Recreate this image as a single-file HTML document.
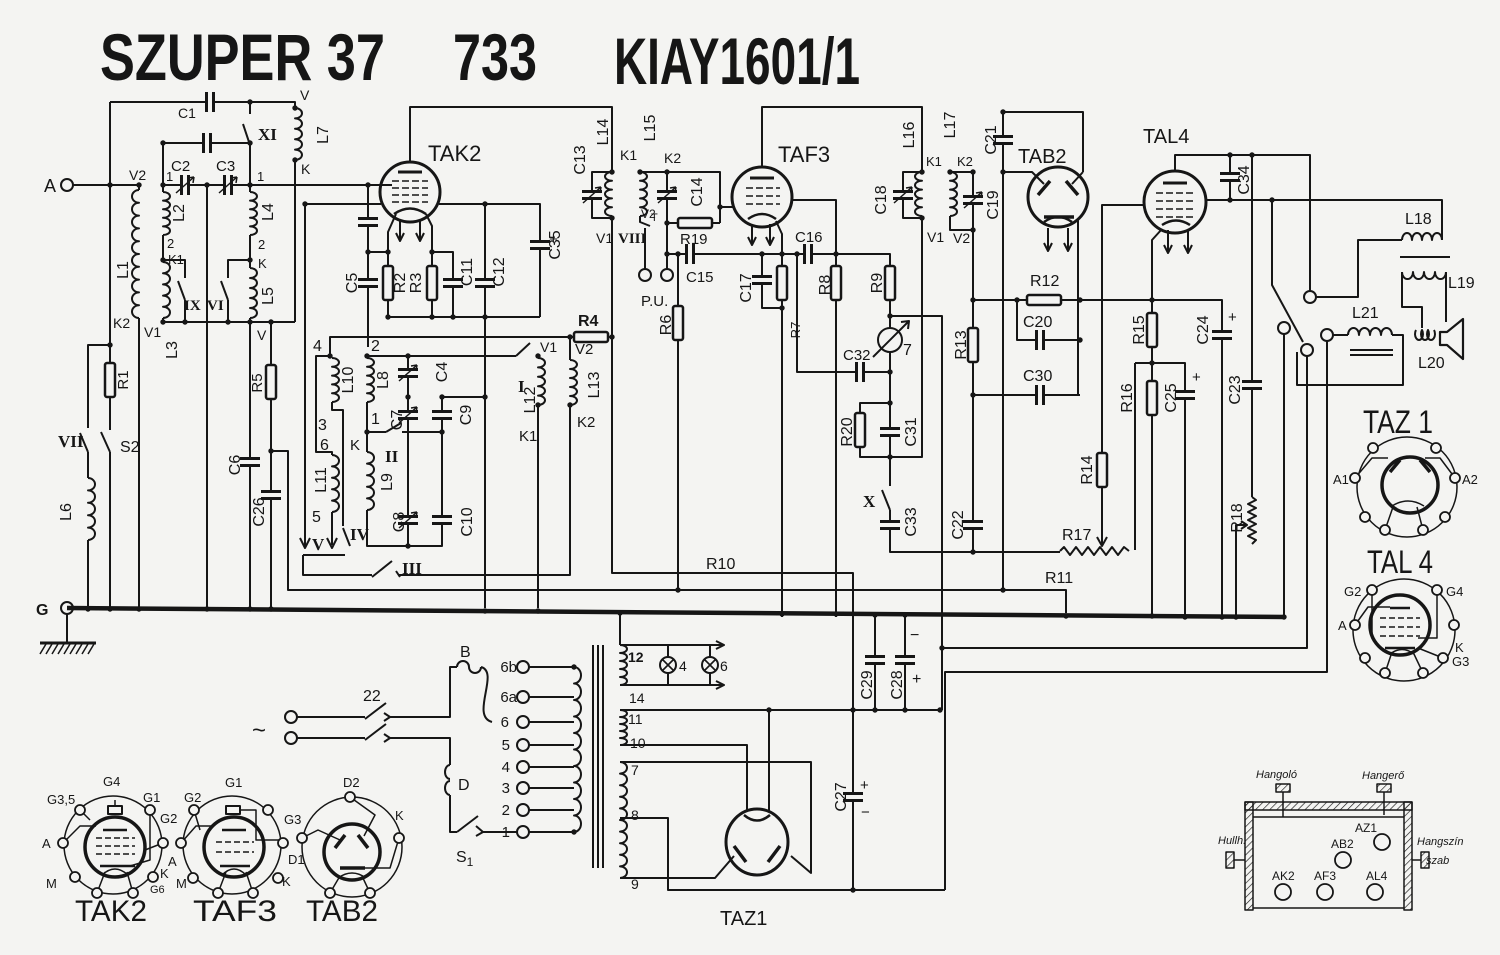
<!DOCTYPE html>
<html><head><meta charset="utf-8">
<style>
html,body{margin:0;padding:0;background:#f4f4f2}
svg{display:block}
text{font-family:"Liberation Sans",sans-serif;fill:#161616;stroke:none}
.s{font-family:"Liberation Serif",serif;font-weight:bold}
.i{font-style:italic}
</style></head><body>
<svg width="1500" height="955" viewBox="0 0 1500 955" xmlns="http://www.w3.org/2000/svg" font-size="16">
<defs>
<g id="cv"><rect x="-1.6" y="-2.6" width="3.2" height="5.2" fill="#f4f4f2" stroke="none"/><path d="M-10 -3.5H10M-10 3.5H10" stroke-width="3"/></g>
<g id="ch"><rect x="-2.6" y="-1.6" width="5.2" height="3.2" fill="#f4f4f2" stroke="none"/><path d="M-3.5 -10V10M3.5 -10V10" stroke-width="3"/></g>
<path id="vr" d="M-9 8L9 -8M9 -8l-6 1M9 -8l-1 6" stroke-width="1.5"/>
<rect id="rv" x="-5" y="-17" width="10" height="34" rx="2" fill="#f4f4f2" stroke-width="2.5"/>
<rect id="rh" x="-17" y="-5" width="34" height="10" rx="2" fill="#f4f4f2" stroke-width="2.5"/>
<circle id="d" r="2.7" fill="#161616" stroke="none"/>
<circle id="o" r="6" fill="#f4f4f2" stroke-width="2"/>
<circle id="p" r="5" fill="#f4f4f2" stroke-width="1.8"/>
<path id="k5" vector-effect="non-scaling-stroke" d="M0 0a7 5 0 1 1 0 10a7 5 0 1 1 0 10a7 5 0 1 1 0 10a7 5 0 1 1 0 10a7 5 0 1 1 0 10"/>
<path id="k10" vector-effect="non-scaling-stroke" d="M0 0a7 5 0 1 1 0 10a7 5 0 1 1 0 10a7 5 0 1 1 0 10a7 5 0 1 1 0 10a7 5 0 1 1 0 10a7 5 0 1 1 0 10a7 5 0 1 1 0 10a7 5 0 1 1 0 10a7 5 0 1 1 0 10a7 5 0 1 1 0 10"/>
<path id="h4" vector-effect="non-scaling-stroke" d="M0 0a5 7 0 1 1 10 0a5 7 0 1 1 10 0a5 7 0 1 1 10 0a5 7 0 1 1 10 0"/>
<pattern id="hatch" width="5" height="5" patternUnits="userSpaceOnUse" patternTransform="rotate(45)"><line x1="0" y1="0" x2="0" y2="5" stroke="#161616" stroke-width="1.3"/></pattern>
</defs>
<rect width="1500" height="955" fill="#f4f4f2"/>

<!-- TITLE -->
<g font-weight="bold">
<text x="100" y="80" font-size="66" textLength="285" lengthAdjust="spacingAndGlyphs">SZUPER 37</text>
<text x="453" y="80" font-size="66" textLength="84" lengthAdjust="spacingAndGlyphs">733</text>
<text x="614" y="84" font-size="66" textLength="246" lengthAdjust="spacingAndGlyphs">KIAY1601/1</text>
</g>

<g stroke="#161616" stroke-width="2" fill="none" stroke-linejoin="round">
<!-- ANTENNA SECTION -->
<path d="M73 185H139V190M139 318V608M110 102V430M110 452V608M110 345H88V428M88 452V478M88 540V608
M110 102H295V108M295 160V322M163 143H250M250 102V114M250 145V192M163 143V192M163 235V262M163 318V322H295
M163 260H185V278M185 300V322M163 185H392M207 185V608M250 235V268M250 260H228V278M228 300V322M250 318V608
M271 322V608M271 451H288V590H1066V613M67 614V643"/>
<path d="M110 452L101 432M88 452L80 433M250 145L243 124M185 300L178 281M228 300L221 281"/>
<path d="M40 643H96" stroke-width="3"/>
<path d="M46 644l-6 10M52 644l-6 10M58 644l-6 10M64 644l-6 10M70 644l-6 10M76 644l-6 10M82 644l-6 10M88 644l-6 10M94 644l-6 10" stroke-width="1.5"/>
<use href="#k10" transform="translate(139,190) scale(-1,1.28)"/>
<use href="#k5" transform="translate(163,192) scale(1,0.86)"/>
<use href="#k5" transform="translate(163,262) scale(1,1.12)"/>
<use href="#k5" transform="translate(250,192) scale(1,0.86)"/>
<use href="#k5" transform="translate(250,268) scale(1,1)"/>
<use href="#k5" transform="translate(295,108) scale(1,1.04)"/>
<use href="#k5" transform="translate(88,478) scale(1,1.24)"/>
<use href="#ch" x="210" y="102"/><use href="#ch" x="207" y="143"/>
<use href="#ch" x="185" y="185"/><use href="#vr" x="185" y="185"/>
<use href="#ch" x="228" y="185"/><use href="#vr" x="228" y="185"/>
<use href="#rv" x="110" y="380"/><use href="#rv" x="271" y="382"/>
<use href="#cv" x="250" y="462"/><use href="#cv" x="271" y="495"/>
<use href="#o" x="67" y="185"/><use href="#o" x="67" y="608"/>

<!-- TAK2 -->
<circle cx="410" cy="192" r="30" stroke-width="3"/>
<path d="M398 172H422" stroke-width="3"/>
<path d="M392 181H428M392 188H428M392 195H428M392 202H428" stroke-width="1.6" stroke-dasharray="7 3"/>
<path d="M394 214Q410 203 426 214" stroke-width="2.5"/>
<path d="M400 220V240M396 233L400 241L404 233M420 220V240M416 233L420 241L424 233"/>
<path d="M410 162V107H612V172M368 185V347M368 252H388V317M432 252V317M432 252H453V317M388 317H540M396 214L388 232V252M426 214L432 226V252
M305 204H381M439 204H540V317M485 204V608M305 204V546M300 538L305 548L310 538"/>
<use href="#cv" x="368" y="222"/><use href="#cv" x="368" y="283"/><use href="#cv" x="453" y="283"/><use href="#cv" x="485" y="283"/><use href="#cv" x="540" y="245"/>
<use href="#rv" x="388" y="283"/><use href="#rv" x="432" y="283"/>

<!-- OSCILLATOR -->
<path d="M330 356V337H612M330 356H316V452H332V455M332 402V410H343V526M343 528L350 546M332 512V545M327 538L332 548L337 538M303 555H345M303 555V575H372M398 575H570V405
M367 356H516M516 356L530 343M538 356V358M538 405V608M570 337V360M367 402V452M367 510V546H442V397H485M408 356V546M367 432H386M386 432L401 423M402 432H442M372 577L392 561M396 571L400 577"/>
<use href="#k5" transform="translate(332,358) scale(1,0.88)"/>
<use href="#k5" transform="translate(332,455) scale(1,1.14)"/>
<use href="#k5" transform="translate(367,358) scale(1,0.88)"/>
<use href="#k5" transform="translate(367,452) scale(1,1.16)"/>
<use href="#k5" transform="translate(538,358) scale(1,0.94)"/>
<use href="#k5" transform="translate(570,360) scale(1,0.9)"/>
<use href="#cv" x="408" y="373"/><use href="#vr" x="408" y="373"/>
<use href="#cv" x="408" y="415"/><use href="#vr" x="408" y="415"/>
<use href="#cv" x="408" y="520"/><use href="#vr" x="408" y="520"/>
<use href="#cv" x="442" y="415"/><use href="#cv" x="442" y="520"/>
<use href="#rh" x="591" y="337"/>

<!-- IF1 + TAF3 -->
<path d="M612 216V573H853V890M612 172H592V218H612M640 172H720V223M720 207H734M667 172V269M640 216V222L650 226M645 228V269M667 223H720
M667 254H890V265M678 254V590"/>
<use href="#k5" transform="translate(612,172) scale(-1,0.88)"/>
<use href="#k5" transform="translate(640,172) scale(1,0.88)"/>
<use href="#cv" x="592" y="195"/><use href="#vr" x="592" y="195"/>
<use href="#cv" x="667" y="195"/><use href="#vr" x="667" y="195"/>
<use href="#rh" x="695" y="223"/>
<use href="#ch" x="690" y="254"/><use href="#ch" x="808" y="254"/>
<use href="#rv" x="678" y="323"/>
<use href="#o" x="645" y="275"/><use href="#o" x="667" y="275"/>
<circle cx="762" cy="197" r="30" stroke-width="3"/>
<path d="M750 178H774" stroke-width="3"/>
<path d="M746 188H780M746 196H780M746 204H780" stroke-width="1.6" stroke-dasharray="7 3"/>
<path d="M748 219Q762 209 776 219" stroke-width="2.5"/>
<path d="M752 224V244M748 237L752 245L756 237M770 224V244M766 237L770 245L774 237"/>
<path d="M762 167V107H922V172M792 200H836V617M776 221L782 234V308H762V254M782 308V617M797 254V372H890M890 254V328M890 352V486M890 403H860V457H922V216M890 316H942V710M890 510V552H1060M890 510L882 490"/>
<use href="#cv" x="762" y="280"/><use href="#rv" x="782" y="283"/><use href="#rv" x="836" y="283"/><use href="#rv" x="890" y="283"/>
<use href="#ch" x="860" y="372"/><use href="#rv" x="860" y="430"/><use href="#cv" x="890" y="432"/><use href="#cv" x="890" y="525"/>
<circle cx="890" cy="340" r="12" fill="#f4f4f2"/>
<path d="M873 357L909 321M901 322L909 321L908 329"/>

<!-- IF2 + TAB2 -->
<path d="M922 172H903V218H922M950 172H973V552M950 216V230H973M1003 112V592M1003 112H1083V172M1003 172H1032L1044 184M1083 172L1072 184M1078 219V395M973 300H1152M1017 300V340H1080M973 395H1080"/>
<use href="#k5" transform="translate(922,172) scale(-1,0.88)"/>
<use href="#k5" transform="translate(950,172) scale(1,0.88)"/>
<use href="#cv" x="903" y="195"/><use href="#vr" x="903" y="195"/>
<use href="#cv" x="973" y="200"/><use href="#vr" x="973" y="200"/>
<use href="#cv" x="1003" y="140"/><use href="#rv" x="973" y="345"/><use href="#cv" x="973" y="525"/>
<use href="#rh" x="1044" y="300"/><use href="#ch" x="1040" y="340"/><use href="#ch" x="1040" y="395"/>
<circle cx="1058" cy="197" r="30" stroke-width="3"/>
<path d="M1038 195L1050 181M1066 181L1078 195M1044 217H1074" stroke-width="3.5"/>
<path d="M1044 222Q1058 212 1072 222" stroke-width="2.5"/>
<path d="M1048 228V250M1044 243L1048 251L1052 243M1068 228V250M1064 243L1068 251L1072 243"/>

<!-- TAL4 -->
<circle cx="1175" cy="202" r="31" stroke-width="3"/>
<path d="M1163 183H1187" stroke-width="3"/>
<path d="M1156 193H1196M1156 201H1196M1156 209H1196M1156 217H1196" stroke-width="1.6" stroke-dasharray="7 3"/>
<path d="M1162 225Q1176 216 1190 225" stroke-width="2.5"/>
<path d="M1168 230V252M1164 245L1168 253L1172 245M1188 230V252M1184 245L1188 253L1192 245"/>
<path d="M1175 171V155H1310V291M1230 155V200M1206 200H1442V240M1252 155V497M1236 617V525H1246M1241 521L1247 525L1241 529M1145 205H1102V544M1097 537L1102 546L1107 537
M1162 229L1152 240V617M1135 363H1185V617M1135 363V550M1152 300H1222V617M1272 200V285L1303 342
M1316 297H1358V240H1402M1402 272V307H1422V328M1446 272V322M1333 335H1348M1392 335H1403V385H1297V352M1284 334V617M1307 356V648H940M1327 341V672H945V890"/>
<path d="M1252 497l4 3l-8 4l8 4l-8 4l8 4l-8 4l8 4l-8 4l8 4l-8 4l8 4l-4 4"/>
<path d="M1060 551l4 -4l6 8l6 -8l6 8l6 -8l6 8l6 -8l6 8l6 -8l6 8l6 -8l5 4"/>
<use href="#cv" x="1230" y="177"/><use href="#cv" x="1252" y="385"/><use href="#cv" x="1222" y="335"/><use href="#cv" x="1185" y="395"/>
<use href="#rv" x="1102" y="470"/><use href="#rv" x="1152" y="330"/><use href="#rv" x="1152" y="398"/>
<use href="#h4" transform="translate(1402,240)"/>
<use href="#h4" transform="translate(1402,272) scale(1.1,-1)"/>
<use href="#h4" transform="translate(1348,335) scale(1.1,1)"/>
<path d="M1400 257H1450M1350 350H1393M1350 355H1393"/>
<path d="M1416 330a4 6 0 1 0 6 0a4 6 0 1 0 6 0a4 6 0 1 0 6 0" stroke-width="2"/>
<path d="M1440 332H1447L1463 319V359L1447 345H1440Z" stroke-width="2.2"/>
<use href="#o" x="1310" y="297"/><use href="#o" x="1284" y="328"/><use href="#o" x="1307" y="350"/><use href="#o" x="1327" y="335"/>

<!-- GROUND BUS -->
<path d="M67 608L1285 617" stroke-width="4.5"/>
<path d="M620 613V645M853 710V890M875 616V710M905 616V710M620 710H940M942 648V710"/>
<use href="#cv" x="875" y="660"/><use href="#cv" x="905" y="660"/><use href="#cv" x="853" y="797"/>

<!-- TRANSFORMER -->
<use href="#k10" transform="translate(574,667) scale(1,1.65)"/>
<path d="M593 645V868M598 645V868M603 645V868"/>
<use href="#k5" transform="translate(620,645) scale(1,0.8)"/>
<use href="#k5" transform="translate(620,710) scale(1,0.7)"/>
<use href="#k10" transform="translate(620,762) scale(1,1.16)"/>
<path d="M620 645H722M620 685H722M716 641L724 645L716 649M716 681L724 685L716 689M668 645V657M668 673V685M710 645V657M710 673V685"/>
<circle cx="668" cy="665" r="8" fill="#f4f4f2"/><circle cx="710" cy="665" r="8" fill="#f4f4f2"/>
<path d="M662 659L674 671M674 659L662 671M704 659L716 671M716 659L704 671" stroke-width="1.6"/>
<path d="M620 745H747V812M769 710V812M620 762H811V873L791 856M620 818H668V890H945M620 878H715L734 856"/>
<ellipse cx="757" cy="842" rx="31" ry="33" stroke-width="3"/>
<path d="M744 815Q757 826 770 815" stroke-width="2.5"/>
<path d="M734 846L746 862M780 846L768 862" stroke-width="3.5"/>
<path d="M529 667H574M529 697H574M529 722H574M529 745H574M529 767H574M529 788H574M529 810H574M529 832H574"/>
<use href="#o" x="523" y="667"/><use href="#o" x="523" y="697"/><use href="#o" x="523" y="722"/><use href="#o" x="523" y="745"/><use href="#o" x="523" y="767"/><use href="#o" x="523" y="788"/><use href="#o" x="523" y="810"/><use href="#o" x="523" y="832"/>
<!-- mains -->
<path d="M297 717H365M365 719L386 703M297 738H365M365 740L386 724M384 713L390 717L384 721M384 734L390 738L384 742
M390 717H450V667H457M457 667a6 6 0 0 1 12 0a6 6 0 0 0 12 0M481 667C500 672 470 716 492 722
M390 738H450V765M450 765a5 7 0 0 0 0 14M450 781a5 7 0 0 0 0 14M450 795V832H457M457 832L478 816M476 826L483 832L476 836M483 832H517"/>
<use href="#o" x="291" y="717"/><use href="#o" x="291" y="738"/>

<!-- SOCKETS BOTTOM LEFT -->
<circle cx="113" cy="845" r="49" stroke-width="1.5"/>
<circle cx="115" cy="847" r="30" stroke-width="3.5"/>
<rect x="108" y="806" width="14" height="8" stroke-width="2"/>
<path d="M103 830H127M100 866H135" stroke-width="2.5"/>
<path d="M96 838H135M96 846H135M96 854H135" stroke-width="1.5" stroke-dasharray="6 3"/>
<path d="M63 843L80 826H96M80 810L90 820M150 810V860L130 866M163 843L145 850M97 893L105 872M133 893L127 872M102 875Q115 863 128 875M115 806V800" stroke-width="1.5"/>
<circle cx="232" cy="845" r="49" stroke-width="1.5"/>
<circle cx="234" cy="847" r="30" stroke-width="3.5"/>
<rect x="226" y="806" width="14" height="8" stroke-width="2"/>
<path d="M222 830H246M220 866H250" stroke-width="2.5"/>
<path d="M216 842H254M216 852H254" stroke-width="1.5" stroke-dasharray="6 3"/>
<path d="M181 843L196 826H214M194 810L200 830M240 810H256V840H283M218 893L226 872M253 893L246 872M222 875Q234 863 246 875" stroke-width="1.5"/>
<circle cx="352" cy="847" r="50" stroke-width="1.5"/>
<circle cx="352" cy="852" r="28" stroke-width="3.5"/>
<path d="M335 848L345 835M358 835L368 848M340 868H365" stroke-width="3.5"/>
<path d="M302 838L318 830L340 840M350 797L375 815L364 836M399 838L390 868H365M330 893L340 876M370 893L362 876M338 878Q352 868 366 878" stroke-width="1.5"/>
<g>
<use href="#p" x="80" y="810"/><use href="#p" x="150" y="810"/><use href="#p" x="63" y="843"/><use href="#p" x="163" y="843"/><use href="#p" x="75" y="877"/><use href="#p" x="97" y="893"/><use href="#p" x="133" y="893"/><use href="#p" x="153" y="877"/>
<use href="#p" x="194" y="810"/><use href="#p" x="268" y="810"/><use href="#p" x="181" y="843"/><use href="#p" x="283" y="843"/><use href="#p" x="193" y="878"/><use href="#p" x="218" y="893"/><use href="#p" x="253" y="893"/><use href="#p" x="278" y="878"/>
<use href="#p" x="350" y="797"/><use href="#p" x="302" y="838"/><use href="#p" x="399" y="838"/><use href="#p" x="330" y="893"/><use href="#p" x="370" y="893"/>
</g>

<!-- SOCKETS RIGHT -->
<circle cx="1407" cy="487" r="50" stroke-width="1.5"/>
<circle cx="1410" cy="485" r="28" stroke-width="3.5"/>
<path d="M1390 472L1400 460M1420 460L1430 472" stroke-width="3.5"/>
<path d="M1355 478L1372 458H1388M1455 478L1440 458H1425M1385 530L1393 507M1423 530L1417 507M1392 506Q1408 496 1424 506" stroke-width="1.5"/>
<use href="#p" x="1373" y="448"/><use href="#p" x="1436" y="448"/><use href="#p" x="1355" y="478"/><use href="#p" x="1455" y="478"/><use href="#p" x="1365" y="517"/><use href="#p" x="1445" y="517"/><use href="#p" x="1385" y="530"/><use href="#p" x="1423" y="530"/>
<circle cx="1404" cy="630" r="51" stroke-width="1.5"/>
<circle cx="1400" cy="625" r="30" stroke-width="3.5"/>
<path d="M1390 608H1410M1385 648H1415" stroke-width="2.5"/>
<path d="M1380 618H1420M1380 627H1420M1380 636H1420" stroke-width="1.5" stroke-dasharray="6 3"/>
<path d="M1355 625L1368 607H1390M1372 590V635M1437 590V638H1418M1443 658L1418 648M1385 673L1392 652M1423 673L1413 652M1390 654Q1402 645 1414 654" stroke-width="1.5"/>
<use href="#p" x="1372" y="590"/><use href="#p" x="1437" y="590"/><use href="#p" x="1355" y="625"/><use href="#p" x="1454" y="625"/><use href="#p" x="1443" y="658"/><use href="#p" x="1365" y="658"/><use href="#p" x="1385" y="673"/><use href="#p" x="1423" y="673"/>

<!-- CHASSIS -->
<rect x="1245" y="802" width="167" height="8" fill="url(#hatch)" stroke-width="1.5"/>
<rect x="1245" y="802" width="8" height="108" fill="url(#hatch)" stroke-width="1.5"/>
<rect x="1404" y="802" width="8" height="108" fill="url(#hatch)" stroke-width="1.5"/>
<path d="M1253 817H1404M1253 908H1404M1283 792V817M1384 792V815M1234 860H1245M1412 860H1421" stroke-width="1.5"/>
<rect x="1276" y="784" width="14" height="8" fill="url(#hatch)" stroke-width="1.5"/>
<rect x="1377" y="784" width="14" height="8" fill="url(#hatch)" stroke-width="1.5"/>
<rect x="1226" y="852" width="8" height="16" fill="url(#hatch)" stroke-width="1.5"/>
<rect x="1421" y="852" width="8" height="16" fill="url(#hatch)" stroke-width="1.5"/>
<circle cx="1382" cy="842" r="8" stroke-width="1.8"/><circle cx="1343" cy="860" r="8" stroke-width="1.8"/>
<circle cx="1283" cy="892" r="8" stroke-width="1.8"/><circle cx="1325" cy="892" r="8" stroke-width="1.8"/><circle cx="1375" cy="892" r="8" stroke-width="1.8"/>
</g>

<!-- JUNCTION DOTS -->
<g>
<use href="#d" x="110" y="185"/><use href="#d" x="139" y="185"/><use href="#d" x="163" y="185"/><use href="#d" x="207" y="185"/><use href="#d" x="250" y="185"/><use href="#d" x="368" y="185"/>
<use href="#d" x="110" y="345"/><use href="#d" x="163" y="143"/><use href="#d" x="250" y="143"/><use href="#d" x="250" y="102"/><use href="#d" x="295" y="108"/><use href="#d" x="295" y="160"/>
<use href="#d" x="163" y="322"/><use href="#d" x="185" y="322"/><use href="#d" x="228" y="322"/><use href="#d" x="250" y="322"/><use href="#d" x="271" y="322"/><use href="#d" x="271" y="451"/><use href="#d" x="250" y="260"/><use href="#d" x="163" y="260"/>
<use href="#d" x="88" y="609"/><use href="#d" x="110" y="609"/><use href="#d" x="139" y="609"/><use href="#d" x="207" y="609"/><use href="#d" x="250" y="609"/><use href="#d" x="271" y="609"/><use href="#d" x="485" y="611"/><use href="#d" x="538" y="611"/><use href="#d" x="620" y="613"/><use href="#d" x="782" y="614"/><use href="#d" x="836" y="614"/><use href="#d" x="875" y="615"/><use href="#d" x="905" y="615"/><use href="#d" x="1066" y="616"/><use href="#d" x="1152" y="616"/><use href="#d" x="1185" y="617"/><use href="#d" x="1222" y="617"/><use href="#d" x="1236" y="617"/><use href="#d" x="1284" y="617"/>
<use href="#d" x="368" y="252"/><use href="#d" x="388" y="252"/><use href="#d" x="432" y="252"/><use href="#d" x="388" y="317"/><use href="#d" x="432" y="317"/><use href="#d" x="453" y="317"/><use href="#d" x="485" y="317"/><use href="#d" x="485" y="204"/><use href="#d" x="305" y="204"/>
<use href="#d" x="330" y="356"/><use href="#d" x="367" y="356"/><use href="#d" x="408" y="356"/><use href="#d" x="408" y="397"/><use href="#d" x="442" y="397"/><use href="#d" x="485" y="397"/><use href="#d" x="367" y="432"/><use href="#d" x="442" y="432"/><use href="#d" x="408" y="546"/><use href="#d" x="570" y="337"/><use href="#d" x="612" y="337"/><use href="#d" x="538" y="356"/><use href="#d" x="538" y="405"/><use href="#d" x="570" y="405"/>
<use href="#d" x="612" y="172"/><use href="#d" x="612" y="218"/><use href="#d" x="640" y="172"/><use href="#d" x="667" y="172"/><use href="#d" x="720" y="207"/><use href="#d" x="667" y="223"/><use href="#d" x="667" y="254"/><use href="#d" x="678" y="254"/><use href="#d" x="762" y="254"/><use href="#d" x="782" y="254"/><use href="#d" x="797" y="254"/><use href="#d" x="836" y="254"/><use href="#d" x="782" y="308"/><use href="#d" x="890" y="316"/><use href="#d" x="890" y="372"/><use href="#d" x="890" y="403"/><use href="#d" x="890" y="457"/><use href="#d" x="678" y="590"/>
<use href="#d" x="922" y="172"/><use href="#d" x="922" y="218"/><use href="#d" x="950" y="172"/><use href="#d" x="973" y="172"/><use href="#d" x="973" y="230"/>
<use href="#d" x="973" y="300"/><use href="#d" x="1017" y="300"/><use href="#d" x="1080" y="300"/><use href="#d" x="973" y="395"/><use href="#d" x="1080" y="340"/><use href="#d" x="1003" y="112"/><use href="#d" x="1003" y="172"/><use href="#d" x="1003" y="590"/><use href="#d" x="973" y="552"/>
<use href="#d" x="1152" y="300"/><use href="#d" x="1152" y="363"/><use href="#d" x="1230" y="155"/><use href="#d" x="1252" y="155"/><use href="#d" x="1230" y="200"/><use href="#d" x="1272" y="200"/>
<use href="#d" x="853" y="710"/><use href="#d" x="769" y="710"/><use href="#d" x="875" y="710"/><use href="#d" x="905" y="710"/><use href="#d" x="940" y="710"/><use href="#d" x="942" y="648"/><use href="#d" x="853" y="890"/>
<use href="#d" x="574" y="667"/><use href="#d" x="574" y="832"/>
</g>

<!-- LABELS -->
<text x="44" y="192" font-size="18">A</text>
<text x="36" y="615" font-weight="bold">G</text>
<text x="129" y="180" font-size="14">V2</text>
<text x="178" y="118" font-size="14">C1</text>
<text x="171" y="171" font-size="15">C2</text>
<text x="216" y="171" font-size="15">C3</text>
<text x="166" y="181" font-size="13">1</text>
<text x="257" y="181" font-size="13">1</text>
<text x="258" y="140" class="s" font-size="17">XI</text>
<text x="300" y="100" font-size="14">V</text>
<text x="301" y="174" font-size="14">K</text>
<text transform="translate(328 135) rotate(-90)" text-anchor="middle">L7</text>
<text transform="translate(128 270) rotate(-90)" text-anchor="middle">L1</text>
<text transform="translate(184 213) rotate(-90)" text-anchor="middle">L2</text>
<text x="167" y="248" font-size="13">2</text>
<text x="168" y="264" font-size="13">K1</text>
<text transform="translate(273 212) rotate(-90)" text-anchor="middle">L4</text>
<text x="258" y="249" font-size="13">2</text>
<text x="258" y="268" font-size="13">K</text>
<text transform="translate(273 296) rotate(-90)" text-anchor="middle">L5</text>
<text x="257" y="340" font-size="14">V</text>
<text x="113" y="328" font-size="14">K2</text>
<text x="144" y="337" font-size="14">V1</text>
<text transform="translate(177 350) rotate(-90)" text-anchor="middle">L3</text>
<text x="184" y="310" class="s" font-size="15">IX</text>
<text x="207" y="310" class="s" font-size="15">VI</text>
<text transform="translate(128 380) rotate(-90)" text-anchor="middle" font-size="15">R1</text>
<text x="120" y="452">S2</text>
<text x="58" y="447" class="s" font-size="17">VII</text>
<text transform="translate(71 512) rotate(-90)" text-anchor="middle">L6</text>
<text transform="translate(262 383) rotate(-90)" text-anchor="middle" font-size="15">R5</text>
<text transform="translate(240 465) rotate(-90)" text-anchor="middle">C6</text>
<text transform="translate(264 512) rotate(-90)" text-anchor="middle">C26</text>

<text x="428" y="161" font-size="22">TAK2</text>
<text transform="translate(357 283) rotate(-90)" text-anchor="middle">C5</text>
<text transform="translate(405 283) rotate(-90)" text-anchor="middle">R2</text>
<text transform="translate(421 283) rotate(-90)" text-anchor="middle">R3</text>
<text transform="translate(472 272) rotate(-90)" text-anchor="middle">C11</text>
<text transform="translate(504 272) rotate(-90)" text-anchor="middle">C12</text>
<text transform="translate(560 245) rotate(-90)" text-anchor="middle">C35</text>
<text x="549" y="244" font-size="15">+</text>

<text x="313" y="351">4</text>
<text x="371" y="351">2</text>
<text transform="translate(353 380) rotate(-90)" text-anchor="middle">L10</text>
<text transform="translate(388 380) rotate(-90)" text-anchor="middle">L8</text>
<text transform="translate(447 372) rotate(-90)" text-anchor="middle">C4</text>
<text x="371" y="424">1</text>
<text transform="translate(402 420) rotate(-90)" text-anchor="middle">C7</text>
<text transform="translate(471 415) rotate(-90)" text-anchor="middle">C9</text>
<text x="318" y="430">3</text>
<text x="320" y="450">6</text>
<text transform="translate(326 480) rotate(-90)" text-anchor="middle">L11</text>
<text x="312" y="522">5</text>
<text x="350" y="450" font-size="15">K</text>
<text transform="translate(392 482) rotate(-90)" text-anchor="middle">L9</text>
<text x="385" y="462" class="s" font-size="17">II</text>
<text transform="translate(404 522) rotate(-90)" text-anchor="middle">C8</text>
<text transform="translate(472 522) rotate(-90)" text-anchor="middle">C10</text>
<text x="350" y="540" class="s" font-size="17">IV</text>
<text x="312" y="550" class="s" font-size="17">V</text>
<text x="402" y="574" class="s" font-size="17">III</text>
<text x="518" y="392" class="s" font-size="17">I</text>
<text x="540" y="352" font-size="14">V1</text>
<text transform="translate(535 400) rotate(-90)" text-anchor="middle">L12</text>
<text x="519" y="441" font-size="15">K1</text>
<text x="578" y="326" font-weight="bold">R4</text>
<text x="575" y="354" font-size="15">V2</text>
<text transform="translate(599 385) rotate(-90)" text-anchor="middle">L13</text>
<text x="577" y="427" font-size="15">K2</text>

<text transform="translate(585 160) rotate(-90)" text-anchor="middle">C13</text>
<text transform="translate(608 132) rotate(-90)" text-anchor="middle">L14</text>
<text x="620" y="160" font-size="14">K1</text>
<text x="596" y="243" font-size="14">V1</text>
<text transform="translate(655 128) rotate(-90)" text-anchor="middle">L15</text>
<text x="664" y="163" font-size="14">K2</text>
<text x="641" y="218" font-size="12">V2</text>
<text transform="translate(702 192) rotate(-90)" text-anchor="middle">C14</text>
<text x="651" y="221" font-size="11">T</text>
<text x="618" y="243" class="s" font-size="15">VIII</text>
<text x="680" y="244" font-size="15">R19</text>
<text x="686" y="282" font-size="15">C15</text>
<text x="641" y="306" font-size="15">P.U.</text>
<text transform="translate(671 325) rotate(-90)" text-anchor="middle">R6</text>
<text x="778" y="162" font-size="22">TAF3</text>
<text x="795" y="242" font-size="15">C16</text>
<text transform="translate(751 288) rotate(-90)" text-anchor="middle">C17</text>
<text transform="translate(800 330) rotate(-90)" text-anchor="middle" font-size="13">R7</text>
<text transform="translate(830 285) rotate(-90)" text-anchor="middle">R8</text>
<text transform="translate(882 283) rotate(-90)" text-anchor="middle">R9</text>
<text x="843" y="360" font-size="15">C32</text>
<text x="903" y="355">7</text>
<text transform="translate(852 432) rotate(-90)" text-anchor="middle">R20</text>
<text transform="translate(916 432) rotate(-90)" text-anchor="middle">C31</text>
<text x="863" y="507" class="s" font-size="17">X</text>
<text transform="translate(916 522) rotate(-90)" text-anchor="middle">C33</text>

<text transform="translate(886 200) rotate(-90)" text-anchor="middle">C18</text>
<text transform="translate(914 135) rotate(-90)" text-anchor="middle">L16</text>
<text x="926" y="166" font-size="13">K1</text>
<text x="927" y="242" font-size="14">V1</text>
<text transform="translate(955 125) rotate(-90)" text-anchor="middle">L17</text>
<text x="957" y="166" font-size="13">K2</text>
<text transform="translate(998 205) rotate(-90)" text-anchor="middle">C19</text>
<text x="953" y="243" font-size="14">V2</text>
<text transform="translate(996 140) rotate(-90)" text-anchor="middle">C21</text>
<text x="1018" y="163" font-size="20">TAB2</text>
<text x="1030" y="286">R12</text>
<text x="1023" y="327">C20</text>
<text x="1023" y="381">C30</text>
<text transform="translate(966 345) rotate(-90)" text-anchor="middle">R13</text>
<text transform="translate(963 525) rotate(-90)" text-anchor="middle">C22</text>
<text x="1143" y="143" font-size="20">TAL4</text>
<text transform="translate(1249 180) rotate(-90)" text-anchor="middle">C34</text>
<text transform="translate(1144 330) rotate(-90)" text-anchor="middle">R15</text>
<text transform="translate(1208 330) rotate(-90)" text-anchor="middle">C24</text>
<text x="1228" y="322" font-size="15">+</text>
<text transform="translate(1132 398) rotate(-90)" text-anchor="middle">R16</text>
<text transform="translate(1176 398) rotate(-90)" text-anchor="middle">C25</text>
<text x="1192" y="382" font-size="15">+</text>
<text transform="translate(1240 390) rotate(-90)" text-anchor="middle">C23</text>
<text transform="translate(1092 470) rotate(-90)" text-anchor="middle">R14</text>
<text x="1062" y="540">R17</text>
<text transform="translate(1242 518) rotate(-90)" text-anchor="middle">R18</text>
<text x="1405" y="224">L18</text>
<text x="1448" y="288">L19</text>
<text x="1418" y="368">L20</text>
<text x="1352" y="318">L21</text>

<text x="706" y="569">R10</text>
<text x="1045" y="583">R11</text>
<text transform="translate(872 685) rotate(-90)" text-anchor="middle">C29</text>
<text transform="translate(902 685) rotate(-90)" text-anchor="middle">C28</text>
<text x="910" y="640" font-size="16">−</text>
<text x="912" y="684" font-size="16">+</text>
<text transform="translate(846 797) rotate(-90)" text-anchor="middle">C27</text>
<text x="860" y="790" font-size="15">+</text>
<text x="861" y="817" font-size="15">−</text>
<text x="720" y="925" font-size="20">TAZ1</text>
<text x="628" y="662" font-size="14" font-weight="bold">12</text>
<text x="629" y="703" font-size="14">14</text>
<text x="628" y="724" font-size="14">11</text>
<text x="630" y="748" font-size="14">10</text>
<text x="631" y="775" font-size="14">7</text>
<text x="631" y="820" font-size="14">8</text>
<text x="631" y="889" font-size="14">9</text>
<text x="679" y="671" font-size="14">4</text>
<text x="720" y="671" font-size="14">6</text>
<text x="252" y="738" font-size="24">~</text>
<text x="363" y="701">22</text>
<text x="460" y="657">B</text>
<text x="458" y="790">D</text>
<text x="456" y="862">S<tspan font-size="12" dy="4">1</tspan></text>
<g font-size="15" text-anchor="end">
<text x="517" y="672">6b</text><text x="517" y="702">6a</text><text x="509" y="727">6</text><text x="510" y="750">5</text><text x="510" y="772">4</text><text x="510" y="793">3</text><text x="510" y="815">2</text><text x="510" y="837">1</text>
</g>

<g font-size="13">
<text x="47" y="804">G3,5</text><text x="103" y="786">G4</text><text x="143" y="802">G1</text><text x="160" y="823">G2</text><text x="42" y="848">A</text><text x="46" y="888">M</text><text x="160" y="878">K</text><text x="150" y="893" font-size="11">G6</text>
<text x="184" y="802">G2</text><text x="225" y="787">G1</text><text x="284" y="824">G3</text><text x="168" y="866">A</text><text x="176" y="888">M</text><text x="282" y="886">K</text>
<text x="343" y="787">D2</text><text x="395" y="820">K</text><text x="288" y="864">D1</text>
<text x="1333" y="484">A1</text><text x="1462" y="484">A2</text>
<text x="1344" y="596">G2</text><text x="1446" y="596">G4</text><text x="1338" y="630">A</text><text x="1455" y="652">K</text><text x="1452" y="666">G3</text>
</g>
<text x="75" y="921" font-size="30" textLength="72" lengthAdjust="spacingAndGlyphs">TAK2</text>
<text x="193" y="921" font-size="30" textLength="84" lengthAdjust="spacingAndGlyphs">TAF3</text>
<text x="306" y="921" font-size="30" textLength="72" lengthAdjust="spacingAndGlyphs">TAB2</text>
<text x="1363" y="433" font-size="32" textLength="70" lengthAdjust="spacingAndGlyphs">TAZ 1</text>
<text x="1367" y="573" font-size="32" textLength="66" lengthAdjust="spacingAndGlyphs">TAL 4</text>

<text x="1256" y="778" class="i" font-size="11">Hangoló</text>
<text x="1362" y="779" class="i" font-size="11">Hangerő</text>
<text x="1218" y="844" class="i" font-size="11">Hullh.</text>
<text x="1417" y="845" class="i" font-size="11">Hangszín</text>
<text x="1426" y="864" class="i" font-size="11">szab</text>
<g font-size="12">
<text x="1355" y="832">AZ1</text><text x="1331" y="848">AB2</text><text x="1272" y="880">AK2</text><text x="1314" y="880">AF3</text><text x="1366" y="880">AL4</text>
</g>
</svg>
</body></html>
